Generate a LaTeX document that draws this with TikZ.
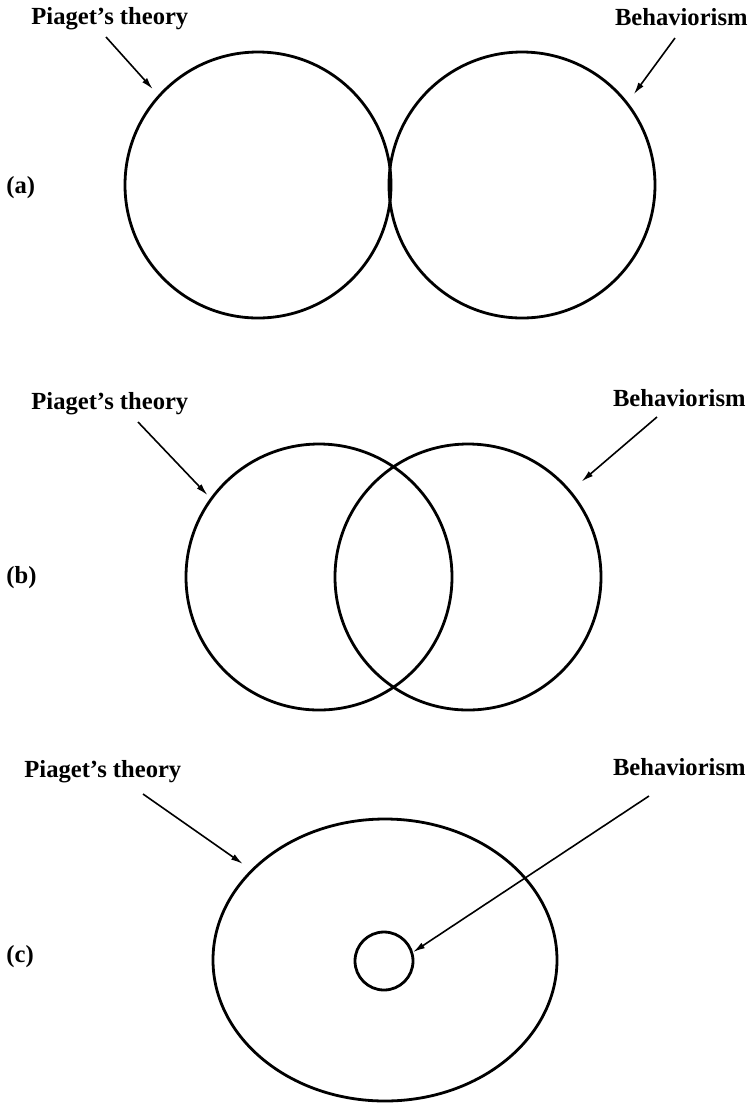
\documentclass[tikz,border=0pt]{standalone}
\usepackage{fontspec}
\setmainfont{Liberation Serif}
\usetikzlibrary{positioning}
\usetikzlibrary{arrows.meta}
\usetikzlibrary{shapes}

\begin{document}
\begin{tikzpicture}[x=0.5pt,y=-0.5pt,
    set/.style={circle, draw, line width=1.4pt, inner sep=0, minimum size=133pt},
    lbl/.style={font=\bfseries\fontsize{12.3}{14}\selectfont, inner sep=0},
    pointer/.style={-{Latex[length=6pt,width=3.2pt]}, line width=0.8pt}]
    \useasboundingbox (0,0) rectangle (755,1105);

    % (a)
    \node[lbl, anchor=west] (pa) at (6,188) {(a)};
    \node[set] (A1) at (258,185) {};
    \node[set] (A2) at (522,185) {};
    \node[lbl, anchor=base west] (piagetA) at (31,24) {Piaget's theory};
    \node[lbl, anchor=base east] (behavA) at (748,25) {Behaviorism};
    \coordinate (piagetA-t) at (106,37);
    \coordinate (behavA-t) at (675,38);
    \draw[pointer, shorten >=4pt] (piagetA-t) -- (A1.138);
    \draw[pointer, shorten >=5pt] (behavA-t) -- (A2.38);

    % (b)
    \node[lbl, anchor=west] (pb) at (6,578) {(b)};
    \node[set] (B1) at (319,577) {};
    \node[set] (B2) at (468,577) {};
    \node[lbl, anchor=base west] (piagetB) at (31,409) {Piaget's theory};
    \node[lbl, anchor=base east] (behavB) at (746,406) {Behaviorism};
    \coordinate (piagetB-t) at (138,422);
    \coordinate (behavB-t) at (657,417);
    \draw[pointer, shorten >=2pt] (piagetB-t) -- (B1.144);
    \draw[pointer, shorten >=7pt] (behavB-t) -- (B2.40);

    % (c)
    \node[lbl, anchor=west] (pc) at (6,957) {(c)};
    \node[ellipse, draw, line width=1.4pt, inner sep=0,
          minimum width=172pt, minimum height=141pt] (C1) at (385,960) {};
    \node[set, minimum size=29pt] (C2) at (384,961) {};
    \node[lbl, anchor=base west] (piagetC) at (24,777) {Piaget's theory};
    \node[lbl, anchor=base east] (behavC) at (746,775) {Behaviorism};
    \coordinate (piagetC-t) at (143,794);
    \coordinate (behavC-t) at (649,796);
    \draw[pointer, shorten >=5pt] (piagetC-t) -- (C1.146);
    \draw[pointer] (behavC-t) -- (C2.17);
\end{tikzpicture}
\end{document}
